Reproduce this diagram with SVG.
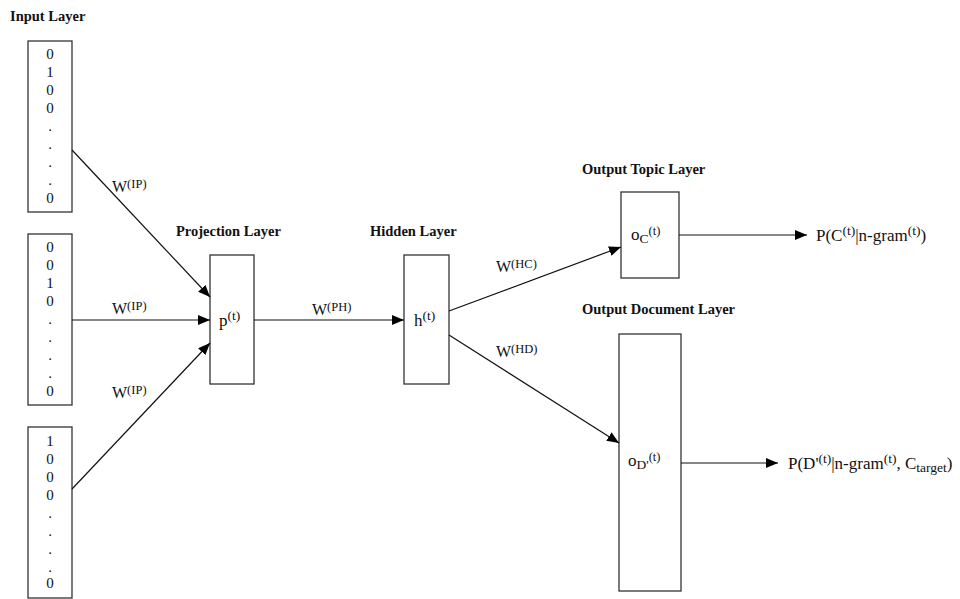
<svg xmlns="http://www.w3.org/2000/svg" width="960" height="599" viewBox="0 0 960 599">
<style>
.box{fill:#fff;stroke:#333;stroke-width:1.3}
.t{font-family:"Liberation Serif",serif;font-size:16px;fill:#111}
.r{font-size:17px}
.h{font-family:"Liberation Serif",serif;font-size:14.5px;font-weight:bold;fill:#111}
.d{font-family:"Liberation Serif",serif;font-size:15px;fill:#111;text-anchor:middle}
.s{font-size:12.5px}
.s2{font-size:13.5px}
.e{stroke:#111;stroke-width:1.2;fill:none}
</style>
<defs>
<marker id="ah" viewBox="0 0 12 10" refX="12" refY="5" markerWidth="12" markerHeight="10" markerUnits="userSpaceOnUse" orient="auto">
<path d="M0,0 L12,5 L0,10 z" fill="#000"/>
</marker>
</defs>
<rect width="960" height="599" fill="#fff"/>
<g id="input1">
<text class="h" x="10" y="21">Input Layer</text>
<rect class="box" x="28" y="41" width="44" height="171"/>
<text class="d" x="50" y="59">0</text><text class="d" x="50" y="77">1</text><text class="d" x="50" y="95">0</text><text class="d" x="50" y="113">0</text>
<text class="d" x="50" y="131">.</text><text class="d" x="50" y="149">.</text><text class="d" x="50" y="167">.</text><text class="d" x="50" y="185">.</text>
<text class="d" x="50" y="203">0</text>
</g>
<g id="input2">
<rect class="box" x="28" y="234" width="44" height="171"/>
<text class="d" x="50" y="252">0</text><text class="d" x="50" y="270">0</text><text class="d" x="50" y="288">1</text><text class="d" x="50" y="306">0</text>
<text class="d" x="50" y="324">.</text><text class="d" x="50" y="342">.</text><text class="d" x="50" y="360">.</text><text class="d" x="50" y="378">.</text>
<text class="d" x="50" y="396">0</text>
</g>
<g id="input3">
<rect class="box" x="28" y="427" width="44" height="171"/>
<text class="d" x="50" y="446">1</text><text class="d" x="50" y="464">0</text><text class="d" x="50" y="482">0</text><text class="d" x="50" y="500">0</text>
<text class="d" x="50" y="518">.</text><text class="d" x="50" y="536">.</text><text class="d" x="50" y="554">.</text><text class="d" x="50" y="572">.</text>
<text class="d" x="50" y="588">0</text>
</g>
<g id="projection">
<text class="h" x="176" y="236">Projection Layer</text>
<rect class="box" x="210" y="255" width="44" height="129"/>
<text class="t r" x="219" y="326">p<tspan class="s2" dy="-6">(t)</tspan></text>
</g>
<g id="hidden">
<text class="h" x="370" y="236">Hidden Layer</text>
<rect class="box" x="404" y="255" width="45" height="129"/>
<text class="t r" x="414" y="326">h<tspan class="s2" dy="-6">(t)</tspan></text>
</g>
<g id="outtopic">
<text class="h" x="582" y="174">Output Topic Layer</text>
<rect class="box" x="621" y="192" width="58" height="86"/>
<text class="t r" x="631" y="240">o<tspan class="s2" dy="3">C</tspan><tspan class="s" dy="-8">(t)</tspan></text>
</g>
<g id="outdoc">
<text class="h" x="582" y="314">Output Document Layer</text>
<rect class="box" x="619" y="334" width="62" height="257"/>
<text class="t r" x="628" y="466">o<tspan class="s2" dy="3">D'</tspan><tspan class="s" dy="-8">(t)</tspan></text>
</g>
<g id="results">
<text class="t r" x="816" y="241">P(C<tspan class="s2" dy="-6">(t)</tspan><tspan dy="6">|n-gram</tspan><tspan class="s2" dy="-6">(t)</tspan><tspan dy="6">)</tspan></text>
<text class="t r" x="788" y="469">P(D'<tspan class="s2" dy="-6">(t)</tspan><tspan dy="6">|n-gram</tspan><tspan class="s2" dy="-6">(t)</tspan><tspan dy="6">, C</tspan><tspan class="s2" dy="3">target</tspan><tspan dy="-3">)</tspan></text>
</g>
<g id="connectors">
<line class="e" x1="72" y1="150" x2="210" y2="297" marker-end="url(#ah)"/>
<line class="e" x1="72" y1="320" x2="210" y2="320" marker-end="url(#ah)"/>
<line class="e" x1="72" y1="489" x2="210" y2="343" marker-end="url(#ah)"/>
<line class="e" x1="254" y1="320" x2="404" y2="320" marker-end="url(#ah)"/>
<line class="e" x1="449" y1="311" x2="621" y2="247" marker-end="url(#ah)"/>
<line class="e" x1="449" y1="335" x2="619" y2="443" marker-end="url(#ah)"/>
<line class="e" x1="679" y1="235" x2="807" y2="235" marker-end="url(#ah)"/>
<line class="e" x1="681" y1="463" x2="778" y2="463" marker-end="url(#ah)"/>
<text class="t" x="112" y="192">W<tspan class="s" dy="-4">(IP)</tspan></text>
<text class="t" x="112" y="314">W<tspan class="s" dy="-4">(IP)</tspan></text>
<text class="t" x="112" y="398">W<tspan class="s" dy="-4">(IP)</tspan></text>
<text class="t" x="312" y="315">W<tspan class="s" dy="-4">(PH)</tspan></text>
<text class="t" x="496" y="272">W<tspan class="s" dy="-4">(HC)</tspan></text>
<text class="t" x="496" y="357">W<tspan class="s" dy="-4">(HD)</tspan></text>
</g>
</svg>
